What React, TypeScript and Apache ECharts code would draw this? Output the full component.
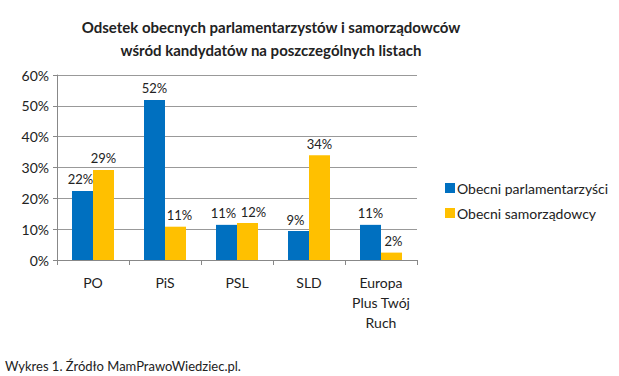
import React, { useEffect, useRef } from "react";
import * as echarts from "echarts";

const categories = ["PO", "PiS", "PSL", "SLD", "Europa\nPlus Twój\nRuch"];
const parlamentarzysci = [22.4, 51.9, 11.4, 9.4, 11.4];
const samorzadowcy = [29.2, 10.8, 12.0, 34.0, 2.4];
const seriesNames = ["Obecni parlamentarzyści", "Obecni samorządowcy"];
const FONT = "Lato, 'Liberation Sans', sans-serif";

// horizontal label nudges (style only), mimicking the original label placement
const blueLabelShift = [-2, 0, -3, -3, 0];
const yellowLabelShift = [0, 4, 6, 0, 2];

export default function App() {
  const ref = useRef<HTMLDivElement>(null);
  useEffect(() => {
    const chart = echarts.init(ref.current!, null, { renderer: "svg" });
    const label = {
      show: true,
      position: "top" as const,
      distance: 5,
      color: "#222",
      fontSize: 13,
      fontFamily: FONT,
      formatter: (p: any) => Math.round(p.value) + "%",
    };
    const withShift = (vals: number[], shifts: number[]) =>
      vals.map((v, i) => ({ value: v, label: { offset: [shifts[i], 0] } }));
    chart.setOption({
      animation: false,
      backgroundColor: "#fff",
      title: {
        text: "Odsetek obecnych parlamentarzystów i samorządowców\nwśród kandydatów na poszczególnych listach",
        left: 266,
        textAlign: "center",
        top: 10,
        textStyle: { fontFamily: FONT, fontSize: 15, fontWeight: "bold", color: "#222", lineHeight: 23 },
      },
      legend: {
        orient: "vertical",
        left: 440,
        top: 176,
        itemWidth: 10,
        itemHeight: 10,
        itemGap: 11,
        icon: "rect",
        textStyle: { fontFamily: FONT, fontSize: 14, color: "#222", padding: [0, 0, 0, -3] },
        data: seriesNames,
      },
      grid: { left: 57, top: 75, width: 360, height: 185, containLabel: false },
      xAxis: {
        type: "category",
        data: categories,
        axisLine: { lineStyle: { color: "#888" } },
        axisTick: { show: true, length: 5, lineStyle: { color: "#888" } },
        axisLabel: { interval: 0, fontFamily: FONT, fontSize: 14, color: "#222", margin: 12, lineHeight: 20 },
      },
      yAxis: {
        type: "value",
        min: 0,
        max: 60,
        interval: 10,
        axisLine: { show: true, lineStyle: { color: "#888" } },
        axisTick: { show: true, length: 4, lineStyle: { color: "#888" } },
        splitLine: { lineStyle: { color: "#999" } },
        axisLabel: { fontFamily: FONT, fontSize: 14, color: "#222", formatter: "{value}%", margin: 8 },
      },
      series: [
        {
          name: seriesNames[0],
          type: "bar",
          data: withShift(parlamentarzysci, blueLabelShift),
          barWidth: 21,
          barGap: "0%",
          itemStyle: { color: "#0070C0" },
          label,
        },
        {
          name: seriesNames[1],
          type: "bar",
          data: withShift(samorzadowcy, yellowLabelShift),
          barWidth: 21,
          barGap: "0%",
          itemStyle: { color: "#FFC000" },
          label,
        },
      ],
      graphic: [
        {
          type: "text",
          left: 5,
          top: 359,
          style: { text: "Wykres 1. Źródło MamPrawoWiedziec.pl.", fontFamily: FONT, fontSize: 13, fill: "#222" },
        },
      ],
    });
    return () => chart.dispose();
  }, []);
  return <div ref={ref} style={{ width: 619, height: 376, position: "absolute", left: 0, top: 0 }} />;
}
